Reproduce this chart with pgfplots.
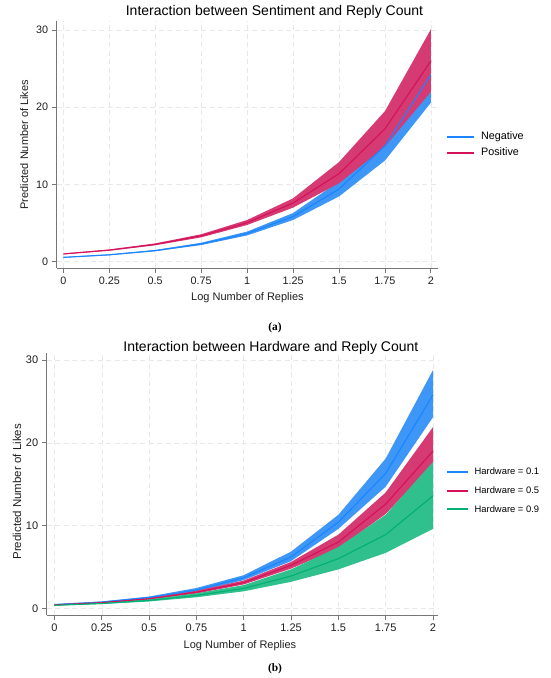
\documentclass[border=0pt]{standalone}
\usepackage{fontspec}
\setmainfont{Liberation Sans}
\newfontfamily\capfont{Liberation Serif}
\usepackage{pgfplots}
\pgfplotsset{compat=1.18}
\definecolor{lblue}{RGB}{26,133,255}
\definecolor{lred}{RGB}{212,17,89}
\definecolor{lgreen}{RGB}{0,176,115}
\definecolor{fblue}{RGB}{62,150,246}
\definecolor{fred}{RGB}{214,58,115}
\definecolor{fgreen}{RGB}{48,192,141}
\definecolor{axgray}{RGB}{118,118,118}
\pgfplotsset{
  stata/.style={
    scale only axis,
    axis x line*=bottom, axis y line*=left,
    axis line style={axgray, line width=0.9pt},
    tick align=outside, major tick length=5pt,
    tick style={axgray, line width=0.9pt},
    xtick={0,0.25,0.5,0.75,1,1.25,1.5,1.75,2},
    xticklabels={0,0.25,0.5,0.75,1,1.25,1.5,1.75,2},
    ytick={0,10,20,30}, yticklabels={0,10,20,30},
    grid=major,
    major grid style={black!9, line width=0.6pt, dash pattern=on 5pt off 3.5pt},
    ticklabel style={text=black!88},
    /pgf/number format/assume math mode=true,
    legend cell align=left,
    clip=true,
  }
}
\begin{document}
\begin{tikzpicture}[x=1pt,y=1pt]
\path[use as bounding box] (0,0) rectangle (550,678);

% ---------------- Panel (a)
\begin{axis}[stata,
  at={(56.7pt,409.7pt)}, anchor=south west,
  width=381.6pt, height=247.6pt,
  xmin=-0.036, xmax=2.04, ymin=-0.855, ymax=31.2,
  ticklabel style={font=\fontsize{10.8}{12}\selectfont},
  legend style={draw=none, fill=none, inner sep=0pt, outer sep=0pt,
    at={(axis description cs:1.022,0.498)}, anchor=west,
    font=\fontsize{10.8}{12}\selectfont, row sep=6.3pt, column sep=7.3pt,
    nodes={inner sep=0pt, text height=0.75em, text depth=0.2em}},
]
% Negative CI
\addplot[fill=fblue, draw=none, forget plot] coordinates {
(0,0.61) (0.25,0.95) (0.5,1.52) (0.75,2.45) (1,3.9) (1.25,6.3) (1.5,10.4) (1.75,17.0) (2,28.3)
(2,20.6) (1.75,13.1) (1.5,8.45) (1.25,5.4) (1,3.4) (0.75,2.15) (0.5,1.35) (0.25,0.83) (0,0.51)
} -- cycle;
% Positive CI
\addplot[fill=fred, draw=none, forget plot] coordinates {
(0,1.06) (0.25,1.58) (0.5,2.37) (0.75,3.55) (1,5.4) (1.25,8.2) (1.5,12.9) (1.75,19.5) (2,30.1)
(2,22.0) (1.75,14.9) (1.5,10.15) (1.25,7.0) (1,4.75) (0.75,3.15) (0.5,2.12) (0.25,1.42) (0,0.95)
} -- cycle;
\addplot[lblue, line width=1.1pt,
  legend image code/.code={\fill[lblue] (0pt,-0.6pt) rectangle (26pt,0.6pt);}] coordinates {
(0,0.56) (0.25,0.89) (0.5,1.43) (0.75,2.3) (1,3.65) (1.25,5.85) (1.5,9.4) (1.75,15.0) (2,24.2)};
\addlegendentry{Negative}
\addplot[lred, line width=1.1pt,
  legend image code/.code={\fill[lred] (0pt,-0.6pt) rectangle (26pt,0.6pt);}] coordinates {
(0,1.0) (0.25,1.5) (0.5,2.24) (0.75,3.35) (1,5.05) (1.25,7.6) (1.5,11.4) (1.75,17.2) (2,26.0)};
\addlegendentry{Positive}
\end{axis}

% ---------------- Panel (b)
\begin{axis}[stata,
  at={(46.7pt,62.7pt)}, anchor=south west,
  width=391.6pt, height=262.6pt,
  xmin=-0.0412, xmax=2.028, ymin=-0.85, ymax=30.9,
  ticklabel style={font=\fontsize{11}{12}\selectfont},
  legend style={draw=none, fill=none, inner sep=0pt, outer sep=0pt,
    at={(axis description cs:1.0215,0.4745)}, anchor=west,
    font=\fontsize{9.4}{11}\selectfont, row sep=9.1pt, column sep=6.8pt,
    nodes={inner sep=0pt, text height=0.75em, text depth=0.2em}},
]
\addplot[fill=fblue, draw=none, forget plot] coordinates {
(0,0.5) (0.25,0.82) (0.5,1.42) (0.75,2.45) (1,4.0) (1.25,6.85) (1.5,11.3) (1.75,18.1) (2,28.8)
(2,23.1) (1.75,14.7) (1.5,9.6) (1.25,5.7) (1,3.4) (0.75,2.0) (0.5,1.18) (0.25,0.68) (0,0.4)
} -- cycle;
\addplot[fill=fred, draw=none, forget plot] coordinates {
(0,0.44) (0.25,0.74) (0.5,1.25) (0.75,2.12) (1,3.35) (1.25,5.6) (1.5,8.9) (1.75,14.0) (2,21.9)
(2,17.4) (1.75,11.4) (1.5,7.25) (1.25,4.8) (1,2.88) (0.75,1.78) (0.5,1.05) (0.25,0.62) (0,0.36)
} -- cycle;
\addplot[fill=fgreen, draw=none, forget plot] coordinates {
(0,0.41) (0.25,0.66) (0.5,1.1) (0.75,1.8) (1,2.8) (1.25,4.7) (1.5,7.4) (1.75,11.3) (2,17.7)
(2,9.6) (1.75,6.7) (1.5,4.7) (1.25,3.2) (1,2.05) (0.75,1.33) (0.5,0.82) (0.25,0.51) (0,0.31)
} -- cycle;
\addplot[lblue, line width=1.1pt,
  legend image code/.code={\fill[lblue] (0pt,-0.5pt) rectangle (20pt,0.5pt);}] coordinates {
(0,0.45) (0.25,0.75) (0.5,1.3) (0.75,2.2) (1,3.7) (1.25,6.2) (1.5,10.4) (1.75,16.3) (2,25.8)};
\addlegendentry{Hardware = 0.1}
\addplot[lred, line width=1.1pt,
  legend image code/.code={\fill[lred] (0pt,-0.5pt) rectangle (20pt,0.5pt);}] coordinates {
(0,0.4) (0.25,0.68) (0.5,1.15) (0.75,1.95) (1,3.1) (1.25,5.2) (1.5,8.0) (1.75,12.6) (2,19.0)};
\addlegendentry{Hardware = 0.5}
\addplot[lgreen, line width=1.1pt,
  legend image code/.code={\fill[lgreen] (0pt,-0.5pt) rectangle (20pt,0.5pt);}] coordinates {
(0,0.36) (0.25,0.58) (0.5,0.95) (0.75,1.55) (1,2.4) (1.25,3.9) (1.5,6.0) (1.75,8.9) (2,13.6)};
\addlegendentry{Hardware = 0.9}
\end{axis}

% ---------------- Texts
\node[anchor=base, font=\fontsize{14}{16}\selectfont] at (274.5,662) {Interaction between Sentiment and Reply Count};
\node[anchor=base, font=\fontsize{11}{13}\selectfont, text=black!88] at (247.5,377.5) {Log Number of Replies};
\node[anchor=base, rotate=90, font=\fontsize{11}{13}\selectfont, text=black!88] at (28,533.3) {Predicted Number of Likes};
\node[anchor=base, font=\capfont\bfseries\fontsize{11.4}{13}\selectfont] at (275,347) {(a)};

\node[anchor=base, font=\fontsize{14}{16}\selectfont] at (270.9,326.3) {Interaction between Hardware and Reply Count};
\node[anchor=base, font=\fontsize{11}{13}\selectfont, text=black!88] at (240,30) {Log Number of Replies};
\node[anchor=base, rotate=90, font=\fontsize{11.5}{13}\selectfont, text=black!88] at (21,186.2) {Predicted Number of Likes};
\node[anchor=base, font=\capfont\bfseries\fontsize{11.4}{13}\selectfont] at (275,6) {(b)};
\end{tikzpicture}
\end{document}
